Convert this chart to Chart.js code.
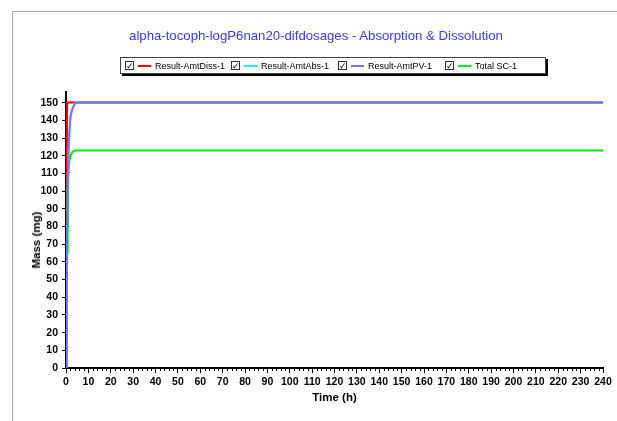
<!DOCTYPE html>
<html>
<head>
<meta charset="utf-8">
<script src="https://cdn.jsdelivr.net/npm/chart.js@4/dist/chart.umd.min.js"></script>
<style>
  html, body { margin: 0; padding: 0; background: #fff; }
  #wrap { position: relative; width: 617px; height: 421px; overflow: hidden; }
  #frame { position: absolute; left: 12px; top: 11px; right: -2px; bottom: -2px;
           border-left: 1px solid #a8a8a8; border-top: 1px solid #a8a8a8; }
  canvas { position: absolute; left: 0; top: 0; }
  #title { position: absolute; left: 0; width: 632px; top: 28px; text-align: center;
           font: 13.2px "Liberation Sans", Arial, sans-serif; color: #3838ff; }
  #ytitle { position: absolute; left: 36px; top: 240px; transform: translate(-50%, -50%) rotate(-90deg);
            font: bold 11.5px "Liberation Sans", Arial, sans-serif; color: #000; white-space: nowrap; }
  #legend { position: absolute; left: 120px; top: 57px; width: 424px; height: 15px;
            border: 1px solid #444; background: #fff; box-shadow: 2px 2px 0 #000;
            font: 9px "Liberation Sans", Arial, sans-serif; color: #000; }
  .item { position: absolute; top: 1px; height: 13px; display: flex; align-items: center; white-space: nowrap; }
  .chk { width: 9px; height: 9px; border: 1px solid #333; box-sizing: border-box; margin-right: 4px;
         font: bold 9px "DejaVu Sans", sans-serif; line-height: 8px; text-align: center; }
  .sw { width: 13px; height: 2px; margin-right: 4px; }
</style>
</head>
<body>
<div id="wrap">
  <div id="frame"></div>
  <canvas id="c" width="617" height="421"></canvas>
  <div id="title">alpha-tocoph-logP6nan20-difdosages - Absorption &amp; Dissolution</div>
  <div id="legend"></div>
  <div id="ytitle">Mass (mg)</div>
</div>
<script>
// Simulation output (time in hours, amounts in mg)
const timeH      = [0, 0.25, 0.5, 0.75, 1, 1.5, 2, 2.5, 3, 4, 5, 240];
const amtDiss    = [0, 90, 150, 150, 150, 150, 150, 150, 150, 150, 150, 150];
const amtAbs     = [0, 40, 80, 105, 118, 133, 142, 145, 147, 149.5, 150, 150];
const amtPV      = [0, 40, 80, 105, 118, 133, 142, 145, 147, 149.5, 150, 150];
const totalSC    = [0, 30, 65, 95, 108, 117, 120, 121.5, 122.3, 123, 123, 123];

const seriesNames  = ['Result-AmtDiss-1', 'Result-AmtAbs-1', 'Result-AmtPV-1', 'Total SC-1'];
const seriesColors = ['#ff0000', '#22eeee', '#7272ff', '#00ee00'];
const seriesValues = [amtDiss, amtAbs, amtPV, totalSC];
const drawOrder    = [4, 3, 1, 2];   // lower value is painted on top

// Axis tick values
const xTicks = [0, 10, 20, 30, 40, 50, 60, 70, 80, 90, 100, 110, 120, 130, 140, 150,
                160, 170, 180, 190, 200, 210, 220, 230, 240];
const yTicks = [0, 10, 20, 30, 40, 50, 60, 70, 80, 90, 100, 110, 120, 130, 140, 150];
const xMax = 240, xMinorStep = 2;
const yMax = 156;

// Legend strip with check boxes
const legendX = [4, 110, 217, 324];
const legend = document.getElementById('legend');
seriesNames.forEach((name, i) => {
  const it = document.createElement('div');
  it.className = 'item';
  it.style.left = legendX[i] + 'px';
  it.innerHTML = '<span class="chk">✓</span><span class="sw" style="background:' +
                 seriesColors[i] + '"></span><span>' + name + '</span>';
  legend.appendChild(it);
});

const tickFont = { family: '"Liberation Sans Narrow", "Arial Narrow", "Liberation Sans", Arial', size: 10.5, weight: 'bold' };
const titleFont = { family: '"Liberation Sans", Arial', size: 11.5, weight: 'bold' };

// Short minor tick marks along the time axis
const minorTicks = {
  id: 'minorTicks',
  afterDraw(chart) {
    const xs = chart.scales.x, ctx = chart.ctx;
    const y0 = chart.chartArea.bottom;
    ctx.save();
    ctx.strokeStyle = '#000';
    ctx.lineWidth = 1;
    for (let v = 0; v <= xMax; v += xMinorStep) {
      if (xTicks.includes(v)) continue;
      const px = Math.round(xs.getPixelForValue(v)) + 0.5;
      ctx.beginPath();
      ctx.moveTo(px, y0);
      ctx.lineTo(px, y0 + 3);
      ctx.stroke();
    }
    ctx.restore();
  }
};

new Chart(document.getElementById('c'), {
  type: 'line',
  data: {
    datasets: seriesNames.map((name, i) => ({
      label: name,
      data: timeH.map((t, k) => ({ x: t, y: seriesValues[i][k] })),
      borderColor: seriesColors[i],
      backgroundColor: seriesColors[i],
      borderWidth: 2,
      pointRadius: 0,
      tension: 0,
      fill: false,
      order: drawOrder[i]
    }))
  },
  options: {
    responsive: false,
    animation: false,
    layout: { padding: { top: 92, left: 25, right: 14, bottom: 12 } },
    plugins: { legend: { display: false }, tooltip: { enabled: false } },
    scales: {
      x: {
        type: 'linear',
        min: 0, max: xMax,
        afterFit: s => { s.height = 41; },
        afterBuildTicks: s => { s.ticks = xTicks.map(v => ({ value: v })); },
        border: { color: '#000', width: 2 },
        grid: { drawOnChartArea: false, tickLength: 5, color: '#000' },
        ticks: { color: '#000', font: tickFont, padding: 3, maxRotation: 0, autoSkip: false },
        title: { display: true, text: 'Time (h)', color: '#000', font: titleFont, padding: 4 }
      },
      y: {
        type: 'linear',
        min: 0, max: yMax,
        afterFit: s => { s.width = 41; },
        afterBuildTicks: s => { s.ticks = yTicks.map(v => ({ value: v })); },
        border: { color: '#000', width: 2 },
        grid: { drawOnChartArea: false, tickLength: 4, color: '#000' },
        ticks: { color: '#000', font: tickFont, padding: 4, autoSkip: false },
        title: { display: false }
      }
    }
  },
  plugins: [minorTicks]
});
</script>
</body>
</html>
